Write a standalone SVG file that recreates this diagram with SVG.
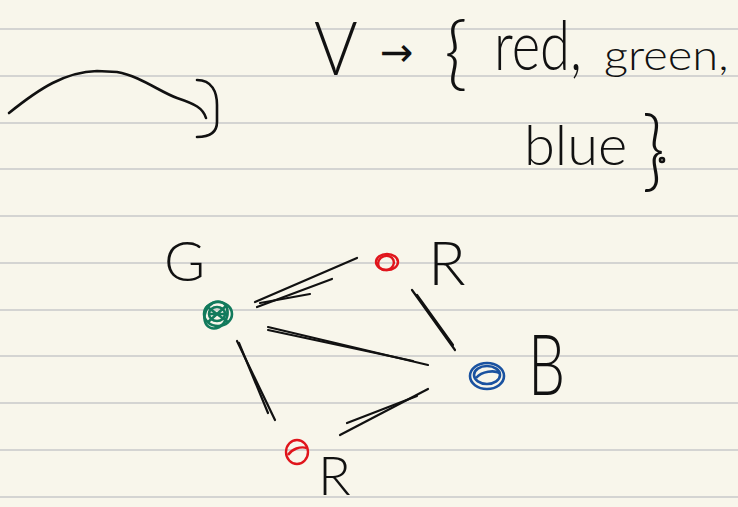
<svg xmlns="http://www.w3.org/2000/svg" width="738" height="507" viewBox="0 0 738 507">
<style>
.rule{stroke:#d4d4d2;stroke-width:2}
.hw{font-family:Lato,"Open Sans","Liberation Sans",sans-serif;font-weight:300;fill:#111}
.ink{fill:none;stroke:#111;stroke-width:2.6;stroke-linecap:round;stroke-linejoin:round}
.edge{fill:none;stroke:#111;stroke-width:2.2;stroke-linecap:round}
.g{fill:none;stroke:#127a5c;stroke-width:2.6}
.r{fill:none;stroke:#e0151c;stroke-width:2.4}
.b{fill:none;stroke:#1a52a0;stroke-width:2.6}
</style>
<rect width="738" height="507" fill="#f8f6eb"/>
<g id="ruling">
<line class="rule" x1="0" y1="29" x2="738" y2="29"/>
<line class="rule" x1="0" y1="76" x2="738" y2="76"/>
<line class="rule" x1="0" y1="123" x2="738" y2="123"/>
<line class="rule" x1="0" y1="169" x2="738" y2="169"/>
<line class="rule" x1="0" y1="216" x2="738" y2="216"/>
<line class="rule" x1="0" y1="263" x2="738" y2="263"/>
<line class="rule" x1="0" y1="310" x2="738" y2="310"/>
<line class="rule" x1="0" y1="356" x2="738" y2="356"/>
<line class="rule" x1="0" y1="403" x2="738" y2="403"/>
<line class="rule" x1="0" y1="450" x2="738" y2="450"/>
<line class="rule" x1="0" y1="497" x2="738" y2="497"/>
</g>
<g id="sketch">
<path class="ink" d="M9,113 C40,88 65,72 97,71 L117,72 C140,76 160,92 177,98 C195,104 203,108 206,118"/>
<path class="ink" d="M197,80 C212,80 217,92 217,105 L217,122 C217,132 210,137 197,137"/>
</g>
<g id="formula">
<text class="hw" font-size="74" transform="translate(314 75) scale(0.9 1)">V</text>
<text class="hw" x="380" y="66" font-size="40" style="font-family:'DejaVu Sans',sans-serif;font-weight:normal">→</text>
<text class="hw" x="444" y="80" font-size="80">{</text>
<text class="hw" font-size="68" transform="translate(494 70) scale(0.8 1)">red,</text>
<text class="hw" font-size="42" transform="translate(604 70) scale(1.12 1)">green,</text>
<text class="hw" x="524" y="165" font-size="56">blue</text>
<text class="hw" font-size="78" transform="translate(642 180) scale(1 1.15)">}</text>
<circle cx="662" cy="160" r="2" class="ink" stroke-width="1.6"/>
</g>
<g id="edges">
<path class="edge" d="M255,302 L357,258"/>
<path class="edge" d="M257,307 L332,279"/>
<path class="edge" d="M260,303 L310,294"/>
<path class="edge" d="M268,327 L428,365"/>
<path class="edge" d="M268,330 L413,361"/>
<path class="edge" d="M237,341 L275,420"/>
<path class="edge" d="M239,343 L268,413"/>
<path class="edge" d="M428,389 L340,435"/>
<path class="edge" d="M347,423 L417,396"/>
<path class="edge" d="M412,290 L455,350"/>
<path class="edge" d="M417,295 L453,345"/>
</g>
<g id="node-g">
<ellipse class="g" cx="218" cy="314" rx="14" ry="12"/>
<ellipse class="g" cx="216" cy="315" rx="11" ry="14" transform="rotate(25 216 315)"/>
<ellipse class="g" cx="217" cy="314" rx="8" ry="7"/>
<path class="g" d="M206,306 L228,322 M208,322 L226,306 M210,314 L228,314"/>
<text class="hw" x="164" y="281" font-size="56">G</text>
</g>
<g id="node-r1">
<ellipse class="r" cx="387" cy="262" rx="11" ry="8"/>
<ellipse class="r" cx="386" cy="263" rx="8" ry="7" transform="rotate(-20 386 263)"/>
<text class="hw" x="428" y="285" font-size="62">R</text>
</g>
<g id="node-b">
<ellipse class="b" cx="487" cy="376" rx="17" ry="13"/>
<ellipse class="b" cx="487" cy="375" rx="13" ry="9"/>
<path class="b" d="M476,378 C482,371 494,370 500,373"/>
<text class="hw" font-size="84" transform="translate(528 395) scale(0.7 1)">B</text>
</g>
<g id="node-r2">
<ellipse class="r" cx="297" cy="452" rx="11" ry="12"/>
<path class="r" d="M288,455 C292,449 300,446 307,448"/>
<text class="hw" x="318" y="495" font-size="54">R</text>
</g>
</svg>
